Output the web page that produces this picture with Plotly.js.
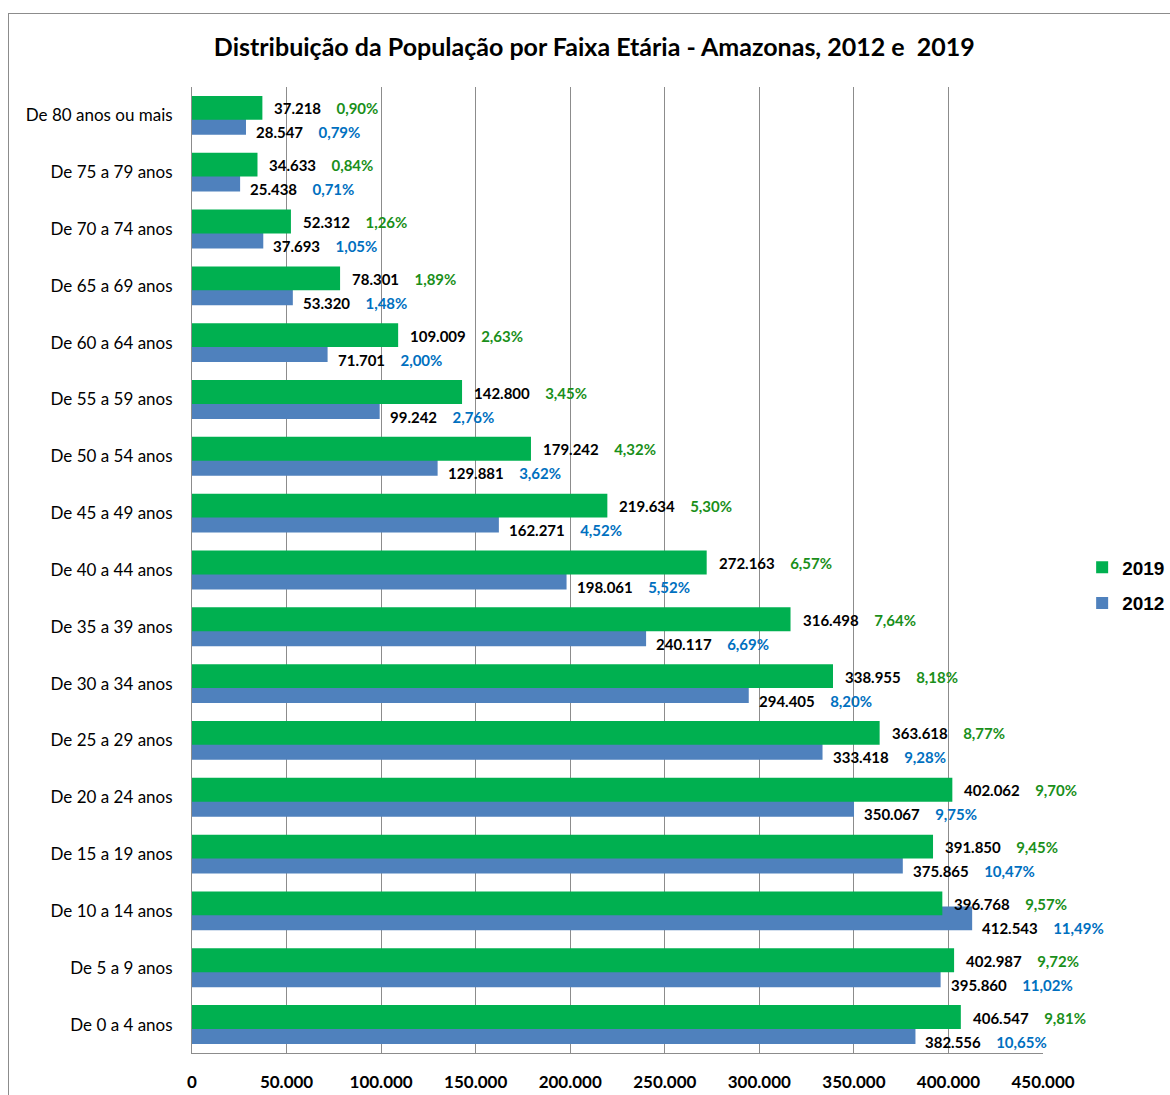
<!DOCTYPE html>
<html>
<head>
<meta charset="utf-8">
<script src="https://cdn.plot.ly/plotly-3.0.1.min.js"></script>
<style>
  html, body { margin: 0; padding: 0; background: #fff; overflow: hidden; }
  #chart { width: 1170px; height: 1095px; position: absolute; left: 0; top: 0; }
  #frame { position: absolute; left: 8px; top: 13px; width: 1300px; height: 1300px; border: 1px solid #8c8c8c; pointer-events: none; }
</style>
</head>
<body>
<div id="chart"></div>
<div id="frame"></div>
<script>
const categories = [
  "De 80 anos ou mais", "De 75 a 79 anos", "De 70 a 74 anos", "De 65 a 69 anos",
  "De 60 a 64 anos", "De 55 a 59 anos", "De 50 a 54 anos", "De 45 a 49 anos",
  "De 40 a 44 anos", "De 35 a 39 anos", "De 30 a 34 anos", "De 25 a 29 anos",
  "De 20 a 24 anos", "De 15 a 19 anos", "De 10 a 14 anos", "De 5 a 9 anos", "De 0 a 4 anos"
];
const values2019 = [37218, 34633, 52312, 78301, 109009, 142800, 179242, 219634, 272163,
  316498, 338955, 363618, 402062, 391850, 396768, 402987, 406547];
const pct2019 = ["0,90%", "0,84%", "1,26%", "1,89%", "2,63%", "3,45%", "4,32%", "5,30%", "6,57%",
  "7,64%", "8,18%", "8,77%", "9,70%", "9,45%", "9,57%", "9,72%", "9,81%"];
const values2012 = [28547, 25438, 37693, 53320, 71701, 99242, 129881, 162271, 198061,
  240117, 294405, 333418, 350067, 375865, 412543, 395860, 382556];
const pct2012 = ["0,79%", "0,71%", "1,05%", "1,48%", "2,00%", "2,76%", "3,62%", "4,52%", "5,52%",
  "6,69%", "8,20%", "9,28%", "9,75%", "10,47%", "11,49%", "11,02%", "10,65%"];
const xTicks = [0, 50000, 100000, 150000, 200000, 250000, 300000, 350000, 400000, 450000];

const GREEN = "#00B050", BLUE = "#4F81BD";
const GREEN_TXT = "#1A8F1A", BLUE_TXT = "#0070C0";
const fmt = v => v.toString().replace(/\B(?=(\d{3})+(?!\d))/g, ".");
const sp = "\u00a0\u00a0\u00a0\u00a0";

const traces = [
  {
    type: "bar", orientation: "h", name: "2012", y: categories, x: values2012,
    marker: { color: BLUE }, width: 0.42, offset: -0.079, legendrank: 2, legendgroup: "b",
    hoverinfo: "skip"
  },
  {
    type: "bar", orientation: "h", name: "2019", y: categories, x: values2019,
    marker: { color: GREEN }, width: 0.42, offset: -0.343, legendrank: 1, legendgroup: "a",
    hoverinfo: "skip"
  }
];

const annotations = [];
categories.forEach((c, i) => {
  annotations.push({
    x: values2019[i], y: c, xref: "x", yref: "y", xanchor: "left", yanchor: "middle",
    xshift: 10, yshift: 7, showarrow: false,
    text: "<b>" + fmt(values2019[i]) + "</b>" + sp + "<span style='color:" + GREEN_TXT + "'><b>" + pct2019[i] + "</b></span>",
    font: { family: "Lato, sans-serif", size: 15, color: "#000" }
  });
  annotations.push({
    x: values2012[i], y: c, xref: "x", yref: "y", xanchor: "left", yanchor: "middle",
    xshift: 8, yshift: -17, showarrow: false,
    text: "<b>" + fmt(values2012[i]) + "</b>" + sp + "<span style='color:" + BLUE_TXT + "'><b>" + pct2012[i] + "</b></span>",
    font: { family: "Lato, sans-serif", size: 15, color: "#000" }
  });
});

const layout = {
  width: 1170, height: 1095,
  margin: { l: 192, r: 127, t: 87, b: 42, autoexpand: false },
  paper_bgcolor: "#fff", plot_bgcolor: "#fff",
  separators: ",.",
  barmode: "overlay",
  title: {
    text: "<b>Distribuição da População por Faixa Etária - Amazonas, 2012 e  2019</b>",
    font: { family: "Lato, sans-serif", size: 25, color: "#000" },
    x: 0.508, xanchor: "center", y: 0.957, yanchor: "middle"
  },
  xaxis: {
    range: [0, 450000], tickvals: xTicks, tickformat: ",d",
    showgrid: true, gridcolor: "#8c8c8c", gridwidth: 1,
    showline: true, linecolor: "#8c8c8c", linewidth: 1, mirror: false,
    zeroline: false, ticks: "", automargin: false,
    tickfont: { family: "Lato, sans-serif", size: 17, color: "#000", weight: "bold" },
    ticklabelstandoff: 14, fixedrange: true
  },
  yaxis: {
    type: "category", autorange: "reversed", automargin: false,
    showgrid: false, showline: true, linecolor: "#8c8c8c", linewidth: 1,
    zeroline: false, ticks: "",
    tickfont: { family: "Lato, sans-serif", size: 17, color: "#000" },
    ticklabelstandoff: 15, fixedrange: true
  },
  legend: {
    x: 1.046, xanchor: "left", y: 0.484, yanchor: "middle",
    font: { family: "Liberation Sans, Arial, sans-serif", size: 19, color: "#000", weight: "bold" },
    itemwidth: 30, tracegroupgap: 8, bgcolor: "rgba(0,0,0,0)"
  },
  showlegend: true,
  annotations: annotations
};

Plotly.newPlot("chart", traces, layout, { displayModeBar: false, staticPlot: true });
</script>
</body>
</html>
